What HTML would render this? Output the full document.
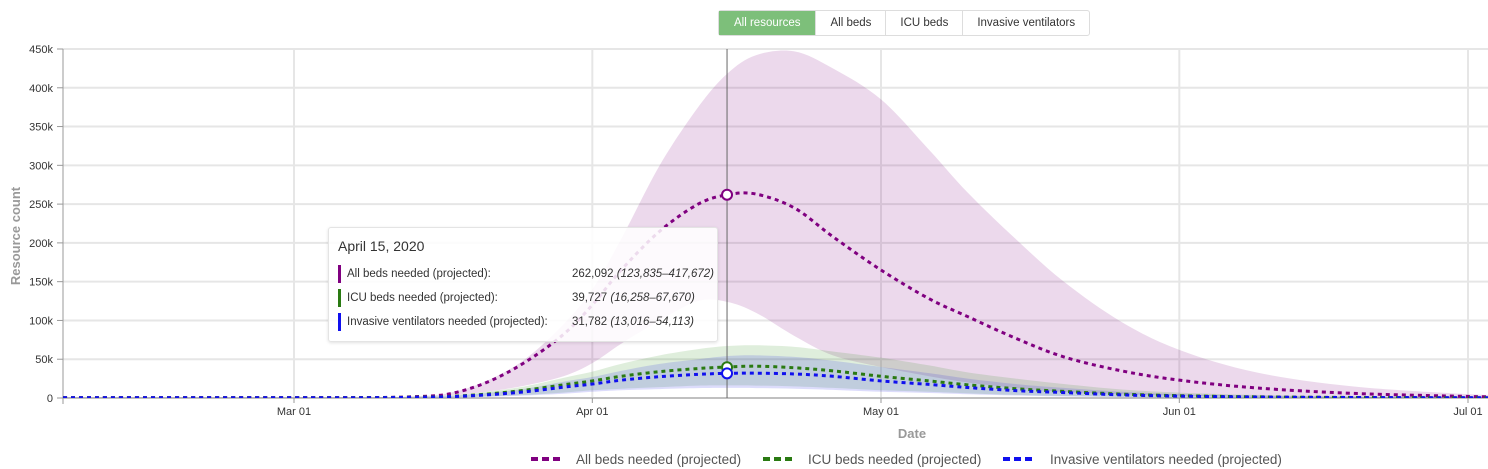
<!DOCTYPE html>
<html><head><meta charset="utf-8"><style>
body{margin:0;width:1488px;height:469px;background:#fff;font-family:"Liberation Sans",sans-serif;overflow:hidden;position:relative}
.btns{position:absolute;left:718px;top:10px;display:flex;border:1px solid #ddd;border-radius:3px;height:24px;font-size:11.5px}
.btns div{padding:0 14px;line-height:24px;color:#333;border-left:1px solid #ddd}
.btns div.on{background:#7dbf7a;color:#fff;border-left:none;padding:0 15px}
#tip{position:absolute;left:328px;top:227px;width:388px;height:113px;background:rgba(255,255,255,0.86);border:1px solid #e4e4e4;border-radius:3px;box-shadow:0 1px 3px rgba(0,0,0,0.12);font-size:11.5px;color:#333}
#tip .t{position:absolute;left:9px;top:10px;font-size:14px}
#tip .r{position:absolute;left:9px;height:18px;line-height:18px;border-left:3px solid;padding-left:6px;width:370px}
#tip .v{position:absolute;left:231px;top:0}
</style></head><body>
<div class="btns">
<div class="on">All resources</div>
<div>All beds</div>
<div>ICU beds</div>
<div>Invasive ventilators</div>
</div>
<svg id="c" width="1488" height="469" style="position:absolute;left:0;top:0"></svg>
<div id="tip">
<div class="t">April 15, 2020</div>
<div class="r" style="top:37px;border-color:#800080">All beds needed (projected):<span class="v">262,092 <i>(123,835–417,672)</i></span></div>
<div class="r" style="top:61px;border-color:#2a7a12">ICU beds needed (projected):<span class="v">39,727 <i>(16,258–67,670)</i></span></div>
<div class="r" style="top:85px;border-color:#1010ee">Invasive ventilators needed (projected):<span class="v">31,782 <i>(13,016–54,113)</i></span></div>
</div>
<script>
const days=[-24,0,8,12,16,20,24,28,31,34,38,42,45,48,52,56,61,66,70,75,80,86,92,100,110,122,126];
const allMean=[0.5,0.5,0.6,1.5,5,20,46,82,120,165,215,250,262,263,245,208,165,128,105,77,53,35,23,13,6,2,1.5];
const allUpper=[1,1,1,2,6,22,50,95,140,205,300,375,418,442,447,425,385,320,265,205,150,98,62,33,15,5,4];
const allLower=[0.3,0.3,0.5,1,3,8,16,28,45,70,100,125,124,110,80,55,40,28,20,13,8,5,3,1.5,0.8,0.3,0.2];
const icuMean=[0.3,0.3,0.5,1,2,5,10,17,22,28,34,38,40,41,39,35,28,22,17,12,8.5,5,3,1.5,0.7,0.3,0.2];
const icuUpper=[0.5,0.5,0.8,1.5,3,8,15,26,34,44,55,63,67,68,66,60,52,42,33,25,18,11,7,4,2,0.8,0.6];
const icuLower=[0.1,0.1,0.2,0.5,1,2,4,7,10,12,14,16,16.3,16,15,13,10,8,6,4,2.5,1.5,0.8,0.4,0.2,0.1,0.1];
const ventMean=[0.3,0.3,0.4,0.8,1.6,4,8,14,18,23,27.5,30.5,31.8,32,31,28,22,17.5,13.5,9.5,7,4,2.4,1.2,0.6,0.3,0.2];
const ventUpper=[0.4,0.4,0.6,1.2,2.4,6.5,12,21,27,35,44,50,54,55,53,48,40,32,25,18,13,8,5,3,1.5,0.6,0.5];
const ventLower=[0.1,0.1,0.2,0.4,0.8,1.6,3.2,5.5,8,10,11.5,12.7,13,12.8,12,10.5,8,6.4,4.8,3.2,2,1.2,0.6,0.3,0.2,0.1,0.1];
const yTicks=[0,50,100,150,200,250,300,350,400,450];
const yTickLabels=["0","50k","100k","150k","200k","250k","300k","350k","400k","450k"];
const xTicks=[0,31,61,92,122];
const xTickLabels=["Mar 01","Apr 01","May 01","Jun 01","Jul 01"];
const hoverDay=45;
const hoverVals=[262.092,39.727,31.782];

const X0=63,X1=1488,Y0=398,Y1=49;
const x=d=>294+d*9.623;
const y=v=>Y0-(v/450)*(Y0-Y1);
const NS="http://www.w3.org/2000/svg";
const svg=document.getElementById('c');
function mk(t,a){const e=document.createElementNS(NS,t);for(const k in a)e.setAttribute(k,a[k]);svg.appendChild(e);return e;}
function curve(xs,ys,move){let s=move?`M${xs[0]},${ys[0]}`:`L${xs[0]},${ys[0]}`;
 for(let i=0;i<xs.length-1;i++){const p0=i?i-1:i,p3=i+2<xs.length?i+2:i+1;
  const c1x=xs[i]+(xs[i+1]-xs[p0])/6,c1y=ys[i]+(ys[i+1]-ys[p0])/6,c2x=xs[i+1]-(xs[p3]-xs[i])/6,c2y=ys[i+1]-(ys[p3]-ys[i])/6;
  s+=`C${c1x},${c1y} ${c2x},${c2y} ${xs[i+1]},${ys[i+1]}`;}return s;}
const defs=mk('defs',{});
const cp=document.createElementNS(NS,'clipPath');cp.setAttribute('id','clip');defs.appendChild(cp);
const r=document.createElementNS(NS,'rect');r.setAttribute('x',X0);r.setAttribute('y',Y1);r.setAttribute('width',X1-X0);r.setAttribute('height',Y0-Y1);cp.appendChild(r);
yTicks.forEach((t,i)=>{
 const g=mk('line',{x1:X0,x2:X1,y1:y(t),y2:y(t),stroke:'#e6e6e6','stroke-width':2});
 
 mk('line',{x1:57,x2:X0,y1:y(t),y2:y(t),stroke:'#999'});
 const tx=mk('text',{x:53,y:y(t)+4,'text-anchor':'end','font-size':11,fill:'#333'});tx.textContent=yTickLabels[i];
 
});
xTicks.forEach((t,i)=>{
 const g=mk('line',{x1:x(t),x2:x(t),y1:Y1,y2:Y0,stroke:'#e6e6e6','stroke-width':2});
 
 mk('line',{x1:x(t),x2:x(t),y1:Y0,y2:Y0+5,stroke:'#999'});
 const tx=mk('text',{x:x(t),y:415,'text-anchor':'middle','font-size':11,fill:'#333'});tx.textContent=xTickLabels[i];
 
});
mk('line',{x1:X0,x2:X0,y1:Y1,y2:Y0+6,stroke:'#999'});
mk('line',{x1:X0,x2:X1,y1:Y0,y2:Y0,stroke:'#999'});
const yt=mk('text',{x:20,y:236,transform:'rotate(-90 20 236)','text-anchor':'middle','font-size':13,'font-weight':'bold',fill:'#999'});yt.textContent='Resource count';

const xt=mk('text',{x:912,y:438,'text-anchor':'middle','font-size':13,'font-weight':'bold',fill:'#999'});xt.textContent='Date';

const series=[
 {n:'all-beds',m:allMean,u:allUpper,l:allLower,c:'#800080',f:'rgba(128,0,128,0.15)'},
 {n:'icu-beds',m:icuMean,u:icuUpper,l:icuLower,c:'#2a7a12',f:'rgba(40,140,20,0.15)'},
 {n:'ventilators',m:ventMean,u:ventUpper,l:ventLower,c:'#1010ee',f:'rgba(20,20,230,0.15)'}];
const xs=days.map(x);
series.forEach(s=>{
 const up=s.u.map(y),lo=s.l.map(y);
 const d=curve(xs,up,true)+curve(xs.slice().reverse(),lo.slice().reverse(),false)+'Z';
 const b=mk('path',{d,fill:s.f,'clip-path':'url(#clip)'});
 
});
series.forEach(s=>{
 const l=mk('path',{d:curve(xs,s.m.map(y),true),fill:'none',stroke:s.c,'stroke-width':3,'stroke-dasharray':'4,4','clip-path':'url(#clip)'});
 
});
mk('line',{x1:x(hoverDay),x2:x(hoverDay),y1:Y1,y2:Y0,stroke:'#666'});
series.forEach((s,i)=>{
 const c=mk('circle',{cx:x(hoverDay),cy:y(hoverVals[i]),r:5,fill:'#fff',stroke:s.c,'stroke-width':2});
 
});
const leg=[[531,576,'All beds needed (projected)','#800080'],[763,808,'ICU beds needed (projected)','#2a7a12'],[1003,1050,'Invasive ventilators needed (projected)','#1010ee']];
leg.forEach((L,i)=>{
 mk('line',{x1:L[0],x2:L[0]+29,y1:459,y2:459,stroke:L[3],'stroke-width':4,'stroke-dasharray':'7,4'});
 const t=mk('text',{x:L[1],y:464,'font-size':13.5,fill:'#555'});t.textContent=L[2];
 
});
</script>
</body></html>
